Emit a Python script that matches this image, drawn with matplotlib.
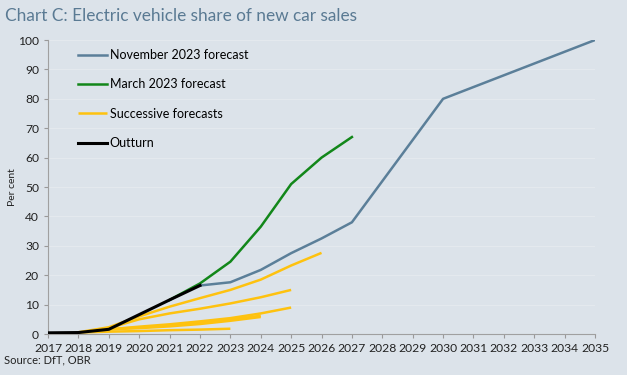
import matplotlib
matplotlib.use("Agg")
import matplotlib.pyplot as plt

plt.rcParams['font.family'] = ['Lato', 'DejaVu Sans']

# Outturn and forecasts, per cent of new car sales
outturn_years = [2017, 2018, 2019, 2020, 2021, 2022]
outturn = [0.4, 0.5, 1.6, 6.6, 11.6, 16.5]

nov23_years = [2022, 2023, 2024, 2025, 2026, 2027, 2030, 2035]
nov23 = [16.5, 17.6, 21.8, 27.5, 32.5, 38.0, 80.0, 100.0]

mar23_years = [2021, 2022, 2023, 2024, 2025, 2026, 2027]
mar23 = [11.6, 17.2, 24.6, 36.5, 51.0, 60.0, 67.0]

# successive (older) forecasts
succ_years = [
    [2018, 2019, 2020, 2021, 2022, 2023, 2024, 2025, 2026],
    [2019, 2020, 2021, 2022, 2023, 2024, 2025],
    [2019, 2020, 2021, 2022, 2023, 2024, 2025],
    [2019, 2020, 2021, 2022, 2023, 2024],
    [2019, 2020, 2021, 2022, 2023, 2024],
    [2018, 2019, 2020, 2021, 2022, 2023],
]
succ_values = [
    [0.6, 2.3, 6.0, 9.3, 12.2, 15.0, 18.5, 23.3, 27.6],
    [2.0, 5.0, 7.0, 8.6, 10.4, 12.5, 15.0],
    [1.6, 2.5, 3.3, 4.3, 5.4, 7.0, 9.0],
    [1.6, 2.2, 2.9, 3.7, 4.9, 6.2],
    [1.6, 2.0, 2.6, 3.4, 4.5, 5.8],
    [0.5, 0.8, 1.0, 1.3, 1.5, 1.8],
]

bg = "#dce3ea"
col_nov = "#5b7f99"
col_mar = "#12871a"
col_succ = "#fec20f"

fig = plt.figure(figsize=(6.27, 3.75), dpi=100, facecolor=bg)
ax = fig.add_axes([0.0766, 0.1093, 0.8724, 0.784])
ax.set_facecolor(bg)

for i in range(len(succ_years)):
    ax.plot(succ_years[i], succ_values[i], color=col_succ, lw=1.8,
            solid_capstyle="butt", label="Successive forecasts" if i == 0 else None, zorder=2)
ax.plot(mar23_years, mar23, color=col_mar, lw=1.8, label="March 2023 forecast", zorder=3)
ax.plot(nov23_years, nov23, color=col_nov, lw=1.8, label="November 2023 forecast", zorder=3)
ax.plot(outturn_years, outturn, color="black", lw=2.2, label="Outturn", zorder=4)

ax.set_xlim(2017, 2035)
ax.set_ylim(0, 100)
ax.set_xticks(range(2017, 2036))
ax.set_yticks(range(0, 101, 10))
ax.tick_params(axis="both", labelsize=8.7, colors="#999999", labelcolor="#222222",
               length=3, width=0.8)
ax.yaxis.grid(True, color="#e4e9ee", lw=0.8)
ax.set_axisbelow(True)
for s in ["top", "right"]:
    ax.spines[s].set_visible(False)
ax.spines["left"].set_color("#a0a0a0")
ax.spines["bottom"].set_color("#a0a0a0")
ax.set_ylabel("Per cent", fontsize=7.5, color="#222222", labelpad=1)

h, l = ax.get_legend_handles_labels()
order = [l.index("November 2023 forecast"), l.index("March 2023 forecast"),
         l.index("Successive forecasts"), l.index("Outturn")]
ax.legend([h[k] for k in order], [l[k] for k in order], loc="upper left",
          bbox_to_anchor=(0.035, 1.007), frameon=False, fontsize=9,
          handlelength=2.3, handletextpad=0.2, labelspacing=1.38)

fig.text(0.008, 0.957, "Chart C: Electric vehicle share of new car sales",
         fontsize=12.4, color="#5a7a93", va="center")
fig.text(0.006, 0.04, "Source: DfT, OBR", fontsize=8, color="#222222", va="center")

fig.savefig("out.png", dpi=100, facecolor=bg)
